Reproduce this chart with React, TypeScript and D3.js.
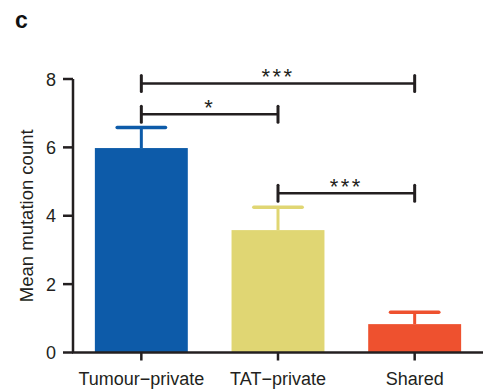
import React from 'react';
import { scaleBand, scaleLinear } from 'd3';

const categories = ['Tumour\u2212private', 'TAT\u2212private', 'Shared'];
const means = [5.98, 3.58, 0.83];
const errors = [0.6, 0.67, 0.35];
const barColors = ['#0d5ba9', '#e0d673', '#ee512f'];
const yTicks = [0, 2, 4, 6, 8];

// significance brackets: from, to, height (y units), label
const sigFrom = [0, 0, 1];
const sigTo = [2, 1, 2];
const sigLevel = [7.87, 6.97, 4.66];
const sigLabel = ['***', '*', '***'];

const W = 488;
const H = 392;
const font = '"Liberation Sans", Arial, Helvetica, sans-serif';
const ink = '#231f20';

const App = () => {
  const x = scaleBand()
    .domain(categories)
    .range([73, 483])
    .paddingInner(0.32)
    .paddingOuter(0.16);

  const y = scaleLinear().domain([0, 8]).range([352.5, 79]);
  const mid = (c: string) => (x(c) as number) + x.bandwidth() / 2;
  const capW = x.bandwidth() * 0.52;

  return (
    <svg width={W} height={H} style={{ position: 'absolute', left: 0, top: 0 }} fontFamily={font}>
      <rect width={W} height={H} fill="#fff" />
      <text x={15} y={28} fontSize={23} fontWeight="bold" fill="#111">c</text>

      {/* bars */}
      {categories.map((c, i) => (
        <g key={c}>
          <line
            x1={mid(c)} x2={mid(c)}
            y1={y(means[i])} y2={y(means[i] + errors[i])}
            stroke={barColors[i]} strokeWidth={3}
          />
          <line
            x1={mid(c) - capW / 2} x2={mid(c) + capW / 2}
            y1={y(means[i] + errors[i])} y2={y(means[i] + errors[i])}
            stroke={barColors[i]} strokeWidth={3.5} strokeLinecap="round"
          />
          <rect
            x={x(c)} width={x.bandwidth()}
            y={y(means[i])} height={y(0) - y(means[i])}
            fill={barColors[i]}
          />
        </g>
      ))}

      {/* y axis */}
      <line x1={73} x2={73} y1={y(8)} y2={y(0)} stroke={ink} strokeWidth={2.5} />
      {yTicks.map(t => (
        <g key={t}>
          <line x1={63} x2={73} y1={y(t)} y2={y(t)} stroke={ink} strokeWidth={2.5} />
          <text x={56} y={y(t) + 6.5} fontSize={18} textAnchor="end" fill={ink}>{t}</text>
        </g>
      ))}
      <text
        transform={`translate(33,${(y(0) + y(8)) / 2}) rotate(-90)`}
        fontSize={18.5} textAnchor="middle" fill={ink}
      >Mean mutation count</text>

      {/* x axis */}
      <line x1={72} x2={483} y1={y(0)} y2={y(0)} stroke={ink} strokeWidth={2.5} />
      {categories.map(c => (
        <g key={c}>
          <line x1={mid(c)} x2={mid(c)} y1={y(0)} y2={y(0) + 8} stroke={ink} strokeWidth={2.5} />
          <text x={mid(c)} y={385} fontSize={18} textAnchor="middle" fill={ink}>{c}</text>
        </g>
      ))}

      {/* significance */}
      {sigLabel.map((lab, i) => {
        const x1 = mid(categories[sigFrom[i]]);
        const x2 = mid(categories[sigTo[i]]);
        const yy = y(sigLevel[i]);
        return (
          <g key={i}>
            <line x1={x1} x2={x2} y1={yy} y2={yy} stroke={ink} strokeWidth={2.5} />
            <line x1={x1} x2={x1} y1={yy - 8} y2={yy + 8} stroke={ink} strokeWidth={3} strokeLinecap="round" />
            <line x1={x2} x2={x2} y1={yy - 8} y2={yy + 8} stroke={ink} strokeWidth={3} strokeLinecap="round" />
            <text x={(x1 + x2) / 2} y={yy + 0.5} fontSize={22} textAnchor="middle" letterSpacing={2.5} fill={ink}>{lab}</text>
          </g>
        );
      })}
    </svg>
  );
};

export default App;
